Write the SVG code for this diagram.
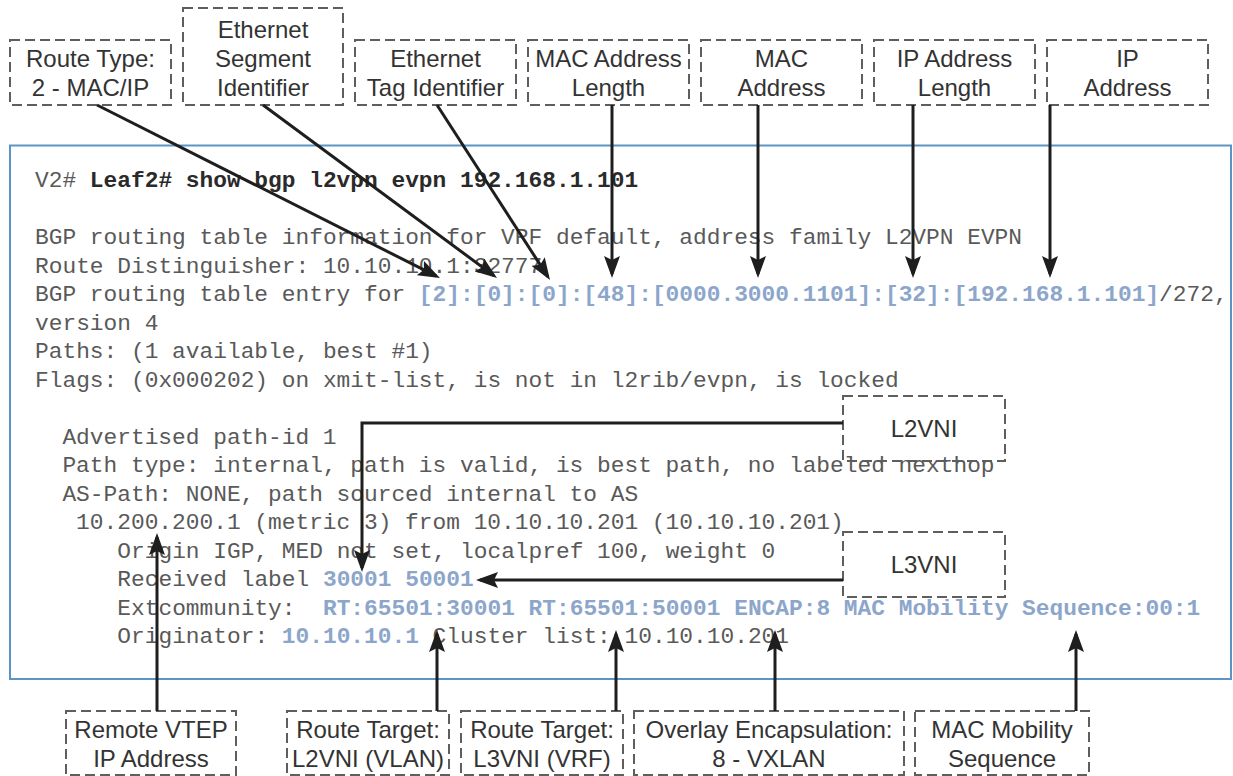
<svg xmlns="http://www.w3.org/2000/svg" width="1233" height="776" viewBox="0 0 1233 776">
  <style>
    .frame { fill: none; stroke: #5a95c5; stroke-width: 2; }
    .tag { fill: none; stroke: #5e5e5e; stroke-width: 2; stroke-dasharray: 10 5; }
    .tag-text { font-family: "Liberation Sans", Arial, sans-serif; font-size: 24px; fill: #333; text-anchor: middle; }
    .code { font-family: "Liberation Mono", "Courier New", monospace; font-size: 22.85px; fill: #595959; white-space: pre; }
    .cmd { font-weight: bold; fill: #2a2a2a; }
    .hl { font-weight: bold; fill: #8ca6cb; }
    .link { fill: none; stroke: #1e1e1e; stroke-width: 3; marker-end: url(#head); }
  </style>
  <defs>
    <marker id="head" viewBox="0 0 22 16" markerWidth="22" markerHeight="16" markerUnits="userSpaceOnUse" refX="18" refY="8" orient="auto">
      <path d="M0,0 L22,8 L0,16 L4,8 z" fill="#1e1e1e"/>
    </marker>
  </defs>

  <rect width="1233" height="776" fill="#fff"/>

  <!-- CLI output panel -->
  <g id="cli-output">
    <rect class="frame" x="10" y="145.5" width="1221" height="533.5"/>
    <g class="code">
      <text x="35" y="187" xml:space="preserve">V2# <tspan class="cmd">Leaf2# show bgp l2vpn evpn 192.168.1.101</tspan></text>
      <text x="35" y="244">BGP routing table information for VRF default, address family L2VPN EVPN</text>
      <text x="35" y="272.5">Route Distinguisher: 10.10.10.1:32777</text>
      <text x="35" y="301" xml:space="preserve">BGP routing table entry for <tspan class="hl">[2]:[0]:[0]:[48]:[0000.3000.1101]:[32]:[192.168.1.101]</tspan>/272,</text>
      <text x="35" y="329.5">version 4</text>
      <text x="35" y="358">Paths: (1 available, best #1)</text>
      <text x="35" y="386.5">Flags: (0x000202) on xmit-list, is not in l2rib/evpn, is locked</text>
      <text x="62.4" y="443.5">Advertised path-id 1</text>
      <text x="62.4" y="472">Path type: internal, path is valid, is best path, no labeled nexthop</text>
      <text x="62.4" y="500.5">AS-Path: NONE, path sourced internal to AS</text>
      <text x="76.1" y="529">10.200.200.1 (metric 3) from 10.10.10.201 (10.10.10.201)</text>
      <text x="117.3" y="557.5">Origin IGP, MED not set, localpref 100, weight 0</text>
      <text x="117.3" y="586" xml:space="preserve">Received label <tspan class="hl">30001 50001</tspan></text>
      <text x="117.3" y="614.5" xml:space="preserve">Extcommunity:&#160; <tspan class="hl">RT:65501:30001 RT:65501:50001 ENCAP:8 MAC Mobility Sequence:00:1</tspan></text>
      <text x="117.3" y="643" xml:space="preserve">Originator: <tspan class="hl">10.10.10.1</tspan> Cluster list: 10.10.10.201</text>
    </g>
  </g>

  <!-- field callouts above the panel -->
  <g id="route-type">
    <rect class="tag" x="10" y="40" width="161" height="65"/>
    <text class="tag-text" x="90.5" y="66.5">Route Type:</text>
    <text class="tag-text" x="90.5" y="95.5">2 - MAC/IP</text>
  </g>
  <g id="esi">
    <rect class="tag" x="183" y="8" width="160" height="97"/>
    <text class="tag-text" x="263" y="37.5">Ethernet</text>
    <text class="tag-text" x="263" y="66.5">Segment</text>
    <text class="tag-text" x="263" y="95.5">Identifier</text>
  </g>
  <g id="eth-tag">
    <rect class="tag" x="355" y="40" width="161" height="65"/>
    <text class="tag-text" x="435.5" y="66.5">Ethernet</text>
    <text class="tag-text" x="435.5" y="95.5">Tag Identifier</text>
  </g>
  <g id="mac-len">
    <rect class="tag" x="528" y="40" width="161" height="65"/>
    <text class="tag-text" x="608.5" y="66.5">MAC Address</text>
    <text class="tag-text" x="608.5" y="95.5">Length</text>
  </g>
  <g id="mac-addr">
    <rect class="tag" x="701" y="40" width="161" height="65"/>
    <text class="tag-text" x="781.5" y="66.5">MAC</text>
    <text class="tag-text" x="781.5" y="95.5">Address</text>
  </g>
  <g id="ip-len">
    <rect class="tag" x="874" y="40" width="161" height="65"/>
    <text class="tag-text" x="954.5" y="66.5">IP Address</text>
    <text class="tag-text" x="954.5" y="95.5">Length</text>
  </g>
  <g id="ip-addr">
    <rect class="tag" x="1047" y="40" width="161" height="65"/>
    <text class="tag-text" x="1127.5" y="66.5">IP</text>
    <text class="tag-text" x="1127.5" y="95.5">Address</text>
  </g>

  <!-- VNI callouts inside the panel -->
  <g id="l2vni">
    <rect class="tag" x="843" y="396" width="162" height="65"/>
    <text class="tag-text" x="924" y="437">L2VNI</text>
  </g>
  <g id="l3vni">
    <rect class="tag" x="843" y="532" width="162" height="65"/>
    <text class="tag-text" x="924" y="573">L3VNI</text>
  </g>

  <!-- attribute callouts below the panel -->
  <g id="remote-vtep">
    <rect class="tag" x="66" y="711" width="170" height="64"/>
    <text class="tag-text" x="151" y="738">Remote VTEP</text>
    <text class="tag-text" x="151" y="767">IP Address</text>
  </g>
  <g id="rt-l2vni">
    <rect class="tag" x="287" y="711" width="162" height="64"/>
    <text class="tag-text" x="368" y="738">Route Target:</text>
    <text class="tag-text" x="368" y="767">L2VNI (VLAN)</text>
  </g>
  <g id="rt-l3vni">
    <rect class="tag" x="461" y="711" width="162" height="64"/>
    <text class="tag-text" x="542" y="738">Route Target:</text>
    <text class="tag-text" x="542" y="767">L3VNI (VRF)</text>
  </g>
  <g id="encap">
    <rect class="tag" x="634" y="711" width="270" height="64"/>
    <text class="tag-text" x="769" y="738">Overlay Encapsulation:</text>
    <text class="tag-text" x="769" y="767">8 - VXLAN</text>
  </g>
  <g id="mac-mobility">
    <rect class="tag" x="915" y="711" width="174" height="64"/>
    <text class="tag-text" x="1002" y="738">MAC Mobility</text>
    <text class="tag-text" x="1002" y="767">Sequence</text>
  </g>

  <!-- connectors -->
  <g id="connectors">
    <path class="link" d="M97,105 L436.4,276.2"/>
    <path class="link" d="M263,105 L493.8,275.6"/>
    <path class="link" d="M437,105 L547.8,276.6"/>
    <path class="link" d="M612,105 V274"/>
    <path class="link" d="M758,105 V274"/>
    <path class="link" d="M913,105 V274"/>
    <path class="link" d="M1050,105 V274"/>
    <path class="link" d="M843,423 H362 V568"/>
    <path class="link" d="M843,580 H480"/>
    <path class="link" d="M157,711 V537"/>
    <path class="link" d="M437,711 V634"/>
    <path class="link" d="M616,711 V634"/>
    <path class="link" d="M775,711 V634"/>
    <path class="link" d="M1076,711 V634"/>
  </g>
</svg>
